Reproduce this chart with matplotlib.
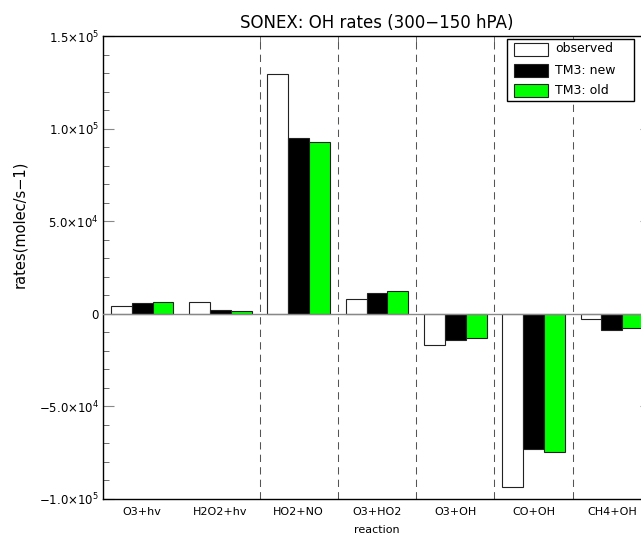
import numpy as np
import matplotlib
matplotlib.use("Agg")
from matplotlib import pyplot as plt
from matplotlib.patches import Rectangle
from matplotlib.ticker import FixedLocator, MultipleLocator

# OH production/loss rates per reaction, 300-150 hPa
reactions = ["O3+hv", "H2O2+hv", "HO2+NO", "O3+HO2", "O3+OH", "CO+OH", "CH4+OH"]
observed = [4200, 6300, 129300, 8100, -16900, -93700, -3000]
tm3_new = [5600, 1800, 95100, 11200, -14200, -72900, -8600]
tm3_old = [6200, 1600, 93000, 12100, -13300, -74500, -7600]

series = [("observed", observed, "white"),
          ("TM3: new", tm3_new, "black"),
          ("TM3: old", tm3_old, "#00ff00")]

ytick_vals = [-1.0e5, -5.0e4, 0, 5.0e4, 1.0e5, 1.5e5]
ytick_labels = [r"$-$1.0$\times$10$^5$", r"$-$5.0$\times$10$^4$", "0",
                r"5.0$\times$10$^4$", r"1.0$\times$10$^5$", r"1.5$\times$10$^5$"]

plt.rcParams["font.family"] = "DejaVu Sans"
plt.rcParams["mathtext.default"] = "regular"

W, H = 641, 536
fig = plt.figure(figsize=(W / 100, H / 100), dpi=100)
# the plot box runs past the right edge of the canvas
ax = fig.add_axes([103 / W, 37 / H, 548 / W, 463 / H])

x = np.arange(len(reactions)) + 0.5
w = 0.267
for k, (name, vals, col) in enumerate(series):
    ax.bar(x + (k - 1) * w, vals, width=w, color=col, edgecolor="#222222",
           linewidth=0.8, label=name, zorder=3)

# zero line and group separators
ax.axhline(0, color="#888888", linewidth=1, zorder=4)
for b in range(2, len(reactions)):
    ax.axvline(b, color="#555555", linewidth=0.75, linestyle=(0, (7, 5)), zorder=2)

ax.set_xlim(0, len(reactions))
ax.set_ylim(-1.0e5, 1.5e5)

ax.set_xticks(x)
ax.set_xticklabels(reactions, fontsize=8)
ax.xaxis.set_minor_locator(FixedLocator(list(range(2, len(reactions)))))
ax.tick_params(axis="x", which="major", length=0, pad=6)
ax.tick_params(axis="x", which="minor", length=5, direction="in", top=True,
               color="#555555")

ax.set_yticks(ytick_vals)
ax.set_yticklabels(ytick_labels, fontsize=8.5)
ax.yaxis.set_minor_locator(MultipleLocator(1.0e4))
ax.tick_params(axis="y", which="major", length=8, direction="in", right=True,
               color="#888888", pad=3)
ax.tick_params(axis="y", which="minor", length=4.5, direction="in",
               color="#555555")

for s in ax.spines.values():
    s.set_linewidth(1)
ax.spines["right"].set_visible(False)

ax.set_title("SONEX: OH rates (300\u2212150 hPA)", fontsize=12, pad=6)
fig.text((103 + 651) / 2 / W, 1 - 530 / H, "reaction", ha="center",
         va="center", fontsize=8)
fig.text(20 / W, 1 - 224 / H, "rates(molec/s\u22121)", rotation=90,
         ha="center", va="center", fontsize=10.5)

# legend box drawn by hand in pixel units
fig.patches.append(Rectangle((507 / W, 1 - 101 / H), 127 / W, 62 / H,
                             transform=fig.transFigure, facecolor="white",
                             edgecolor="black", linewidth=1, zorder=5))
for k, (name, vals, col) in enumerate(series):
    yc = [49, 70, 90.5][k]
    fig.patches.append(Rectangle((514 / W, 1 - (yc + 6.5) / H), 34 / W, 13 / H,
                                 transform=fig.transFigure, facecolor=col,
                                 edgecolor="#222222", linewidth=0.8, zorder=6))
    fig.text(555 / W, 1 - yc / H, name, ha="left", va="center", fontsize=9,
             zorder=7)

fig.savefig("out.png", dpi=100)
